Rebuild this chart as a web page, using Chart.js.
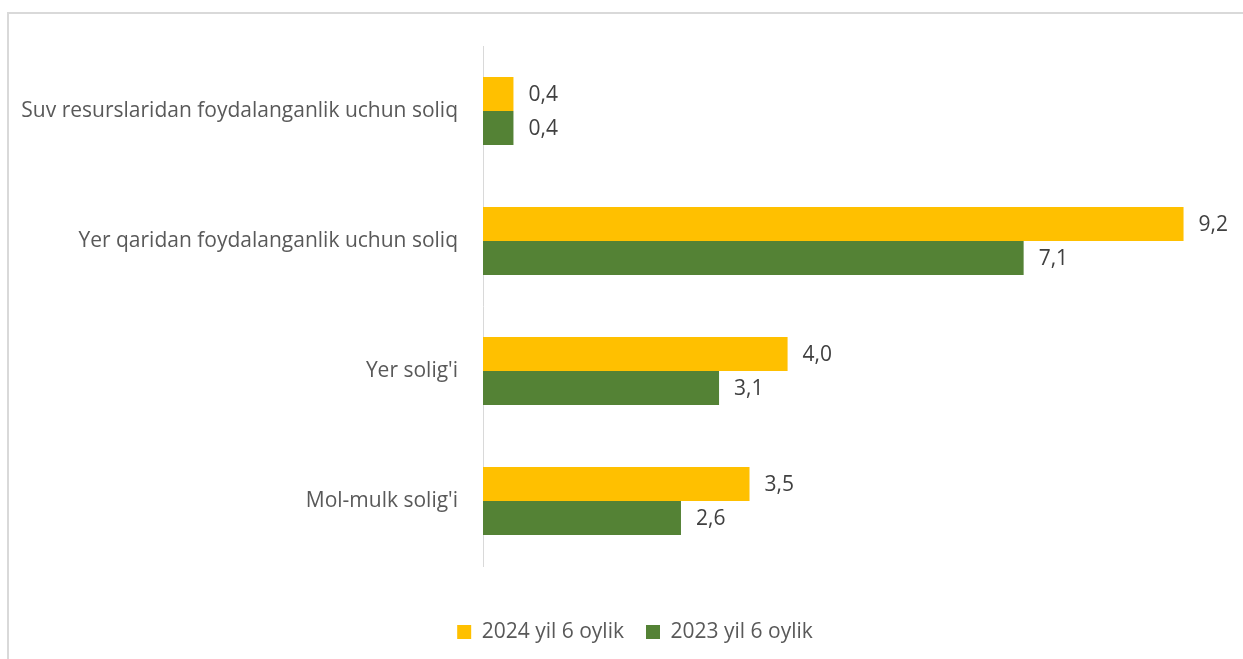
<!DOCTYPE html>
<html>
<head>
<meta charset="utf-8">
<script src="https://cdn.jsdelivr.net/npm/chart.js@4.4.1/dist/chart.umd.min.js"></script>
<style>
  html, body { margin: 0; padding: 0; background: #ffffff; }
  #wrap { position: relative; width: 1243px; height: 659px; }
</style>
</head>
<body>
<div id="wrap"><canvas id="c" width="1243" height="659"></canvas></div>
<script>
const categories = [
  "Suv resurslaridan foydalanganlik uchun soliq",
  "Yer qaridan foydalanganlik uchun soliq",
  "Yer solig'i",
  "Mol-mulk solig'i"
];
const seriesNames = ["2024 yil 6 oylik", "2023 yil 6 oylik"];
const values2024 = [0.4, 9.2, 4.0, 3.5];
const values2023 = [0.4, 7.1, 3.1, 2.6];
const seriesColors = ["#FFC000", "#548235"];

const FONT = "'Open Sans', 'Noto Sans', sans-serif";

const frame = {
  id: 'frame',
  beforeDraw(chart) {
    const ctx = chart.ctx;
    ctx.save();
    ctx.strokeStyle = '#d9d9d9';
    ctx.lineWidth = 2;
    ctx.beginPath();
    ctx.moveTo(8, 700);
    ctx.lineTo(8, 13);
    ctx.lineTo(1260, 13);
    ctx.stroke();
    ctx.restore();
  }
};

const legendShift = {
  id: 'legendShift',
  afterLayout(chart) {
    if (chart.legend) {
      chart.legend.left += 28;
      chart.legend.right += 28;
    }
  }
};

const valueLabels = {
  id: 'valueLabels',
  afterDatasetsDraw(chart) {
    const ctx = chart.ctx;
    ctx.save();
    ctx.font = "21px " + FONT;
    ctx.fillStyle = '#404040';
    ctx.textAlign = 'left';
    ctx.textBaseline = 'middle';
    chart.data.datasets.forEach((ds, di) => {
      const meta = chart.getDatasetMeta(di);
      meta.data.forEach((el, i) => {
        const txt = ds.data[i].toFixed(1).replace('.', ',');
        ctx.fillText(txt, el.x + 15, el.y + 1);
      });
    });
    ctx.restore();
  }
};

new Chart(document.getElementById('c'), {
  type: 'bar',
  data: {
    labels: categories,
    datasets: [
      { label: seriesNames[0], data: values2024, backgroundColor: seriesColors[0] },
      { label: seriesNames[1], data: values2023, backgroundColor: seriesColors[1] }
    ]
  },
  options: {
    indexAxis: 'y',
    responsive: false,
    animation: false,
    devicePixelRatio: 1,
    categoryPercentage: 0.523,
    barPercentage: 1.0,
    layout: { padding: { top: 46, right: 29, bottom: 6.5, left: 0 } },
    plugins: {
      legend: {
        position: 'bottom',
        labels: {
          font: { family: FONT, size: 21 },
          color: '#595959',
          boxWidth: 14,
          boxHeight: 14,
          padding: 22
        }
      },
      tooltip: { enabled: false },
      title: { display: false }
    },
    scales: {
      x: {
        min: 0,
        max: 9.6,
        display: true,
        grid: { display: false, drawTicks: false },
        border: { display: false },
        ticks: { display: false },
        afterFit(s) { s.height = 33.5; }
      },
      y: {
        grid: { display: false, drawTicks: false },
        border: { display: true, color: '#d9d9d9', width: 1 },
        ticks: {
          font: { family: FONT, size: 21 },
          color: '#595959',
          padding: 25
        },
        afterFit(s) { s.width = 483; }
      }
    }
  },
  plugins: [frame, legendShift, valueLabels]
});
</script>
</body>
</html>
